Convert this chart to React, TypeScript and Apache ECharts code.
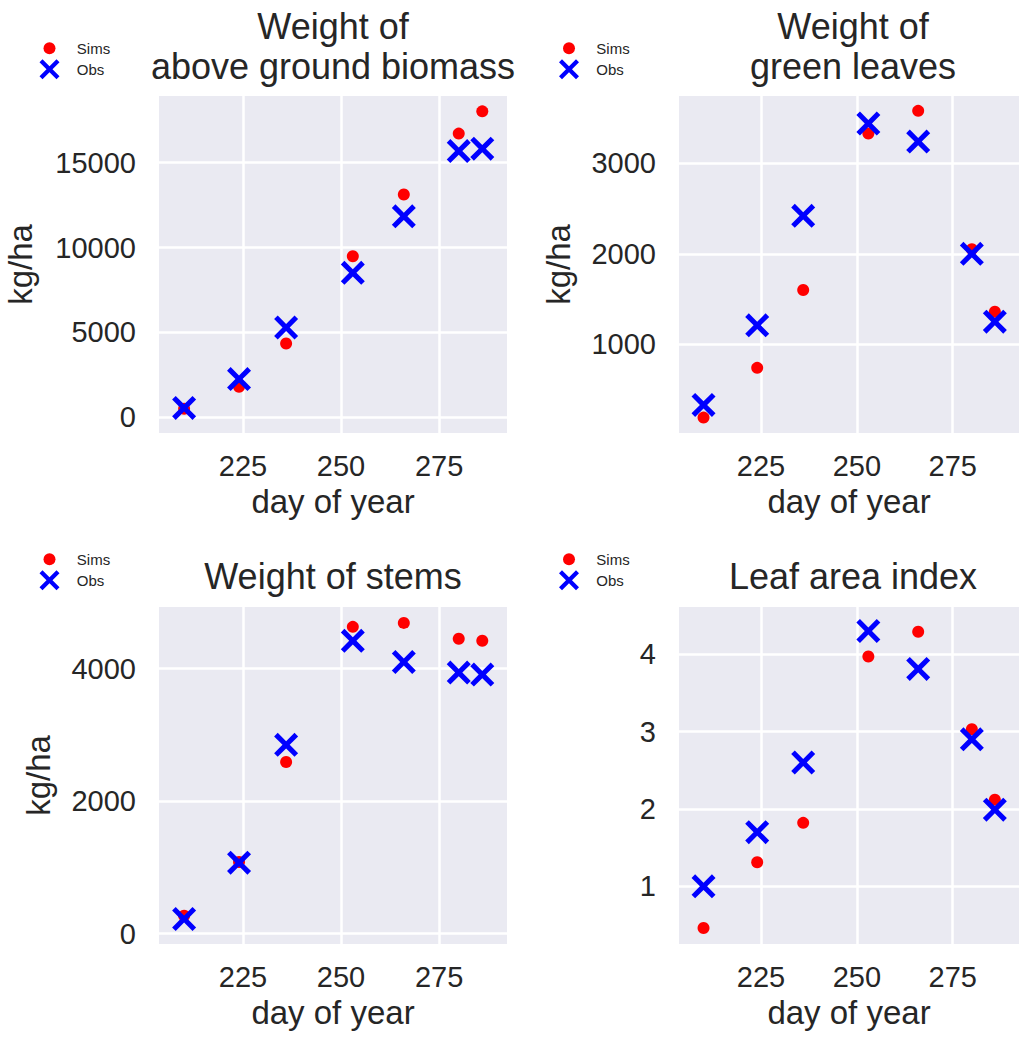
import React, { useEffect, useRef } from 'react';
import * as echarts from 'echarts';

// ---- data ----
const days = [210, 224, 236, 253, 266, 280, 286];

const biomassSims = [500, 1800, 4350, 9490, 13120, 16710, 18020];
const biomassObs = [550, 2250, 5290, 8510, 11840, 15680, 15820];
const leavesSims = [190, 740, 1600, 3330, 3580, 2050, 1360];
const leavesObs = [330, 1210, 2420, 3440, 3240, 2000, 1250];
const stemsSims = [270, 1080, 2590, 4630, 4690, 4450, 4420];
const stemsObs = [220, 1070, 2850, 4420, 4100, 3940, 3910];
const laiSims = [0.46, 1.31, 1.82, 3.97, 4.29, 3.03, 2.12];
const laiObs = [1.0, 1.7, 2.6, 4.3, 3.81, 2.9, 1.99];

const xTicks = [225, 250, 275];
const biomassTicks = [0, 5000, 10000, 15000];
const leavesTicks = [1000, 2000, 3000];
const stemsTicks = [0, 2000, 4000];
const laiTicks = [1, 2, 3, 4];

const xRange = [203.6, 292.3];
const biomassRange = [-924, 18924];
const leavesRange = [20, 3744];
const stemsRange = [-157, 4930];
const laiRange = [0.254, 4.61];

const titles = [
  'Weight of\nabove ground biomass',
  'Weight of\ngreen leaves',
  'Weight of stems',
  'Leaf area index',
];
const yNames = ['kg/ha', 'kg/ha', 'kg/ha', ''];
const xName = 'day of year';
const seriesNames = ['Sims', 'Obs'];

// ---- styling / layout ----
const FONT = "'Liberation Sans', Arial, sans-serif";
const TEXT = '#262626';
const BG = '#EAEAF2';
const RED = '#FF0000';
const BLUE = '#0000FF';

const X_ICON =
  'path://M3.6,0L12,8.4L20.4,0L24,3.6L15.6,12L24,20.4L20.4,24L12,15.6L3.6,24L0,20.4L8.4,12L0,3.6Z';
const DOT_ICON =
  'path://M0,0M20,20M4,10A6,6,0,1,1,16,10A6,6,0,1,1,4,10Z';

const gridBoxes = [
  { left: 159, top: 96 },
  { left: 679, top: 96 },
  { left: 159, top: 607 },
  { left: 679, top: 607 },
];
const GW = 348;
const GH = 337;
const yNameGaps = [122, 104, 104, 104];
const titleTops = [7, 7, 557, 557];
const legendPos = [
  { left: 39.5, top: 38.3 },
  { left: 559, top: 38.3 },
  { left: 39.5, top: 549.3 },
  { left: 559, top: 549.3 },
];

const panelSims = [biomassSims, leavesSims, stemsSims, laiSims];
const panelObs = [biomassObs, leavesObs, stemsObs, laiObs];
const panelTicks = [biomassTicks, leavesTicks, stemsTicks, laiTicks];
const panelRanges = [biomassRange, leavesRange, stemsRange, laiRange];

const plain = (v: number) => String(v);

function buildOption() {
  const grid: any[] = [];
  const xAxis: any[] = [];
  const yAxis: any[] = [];
  const series: any[] = [];
  const title: any[] = [];
  const legend: any[] = [];

  for (let i = 0; i < 4; i++) {
    const g = gridBoxes[i];
    grid.push({
      left: g.left,
      top: g.top,
      width: GW,
      height: GH,
      show: true,
      backgroundColor: BG,
      borderWidth: 0,
      containLabel: false,
    });
    xAxis.push({
      type: 'value',
      gridIndex: i,
      min: xRange[0],
      max: xRange[1],
      name: xName,
      nameLocation: 'middle',
      nameGap: 52,
      nameTextStyle: { fontFamily: FONT, fontSize: 33, color: TEXT },
      axisLine: { show: false },
      axisTick: { show: false, customValues: xTicks },
      axisLabel: {
        customValues: xTicks,
        formatter: plain,
        fontFamily: FONT,
        fontSize: 29,
        color: TEXT,
        margin: 18.5,
      },
      splitLine: { show: true, lineStyle: { color: '#FFFFFF', width: 2.5 } },
    });
    yAxis.push({
      type: 'value',
      gridIndex: i,
      min: panelRanges[i][0],
      max: panelRanges[i][1],
      name: yNames[i],
      nameLocation: 'middle',
      nameRotate: 90,
      nameGap: yNameGaps[i],
      nameTextStyle: { fontFamily: FONT, fontSize: 33, color: TEXT },
      axisLine: { show: false },
      axisTick: { show: false, customValues: panelTicks[i] },
      axisLabel: {
        customValues: panelTicks[i],
        formatter: plain,
        fontFamily: FONT,
        fontSize: 29,
        color: TEXT,
        margin: 23,
      },
      splitLine: { show: true, lineStyle: { color: '#FFFFFF', width: 2.5 } },
    });
    series.push({
      type: 'scatter',
      name: seriesNames[0],
      xAxisIndex: i,
      yAxisIndex: i,
      symbol: 'circle',
      symbolSize: 12,
      itemStyle: { color: RED, opacity: 1 },
      data: days.map((d, j) => [d, panelSims[i][j]]),
      clip: false,
      z: 2,
    });
    series.push({
      type: 'scatter',
      name: seriesNames[1],
      xAxisIndex: i,
      yAxisIndex: i,
      symbol: X_ICON,
      symbolSize: 24,
      itemStyle: { color: BLUE, opacity: 1 },
      data: days.map((d, j) => [d, panelObs[i][j]]),
      clip: false,
      z: 3,
    });
    title.push({
      text: titles[i],
      left: g.left + GW / 2,
      top: titleTops[i],
      textAlign: 'center',
      padding: 0,
      textStyle: {
        fontFamily: FONT,
        fontSize: 36,
        fontWeight: 'normal',
        color: TEXT,
        lineHeight: 39.5,
      },
    });
    legend.push({
      left: legendPos[i].left,
      top: legendPos[i].top,
      orient: 'vertical',
      padding: 0,
      itemWidth: 44.6,
      itemHeight: 20,
      itemGap: 1,
      selectedMode: false,
      textStyle: { fontFamily: FONT, fontSize: 15, color: TEXT },
      data: [
        { name: seriesNames[0], icon: DOT_ICON, itemStyle: { color: RED } },
        { name: seriesNames[1], icon: X_ICON, itemStyle: { color: BLUE } },
      ],
    });
  }

  return {
    animation: false,
    backgroundColor: '#FFFFFF',
    textStyle: { fontFamily: FONT },
    grid,
    xAxis,
    yAxis,
    series,
    title,
    legend,
  };
}

export default function App() {
  const ref = useRef<HTMLDivElement>(null);
  useEffect(() => {
    if (!ref.current) return;
    const chart = echarts.init(ref.current, undefined, { renderer: 'svg' });
    chart.setOption(buildOption() as any);
    return () => {
      chart.dispose();
    };
  }, []);
  return (
    <div
      ref={ref}
      style={{ position: 'fixed', left: 0, top: 0, width: 1019, height: 1039 }}
    />
  );
}
